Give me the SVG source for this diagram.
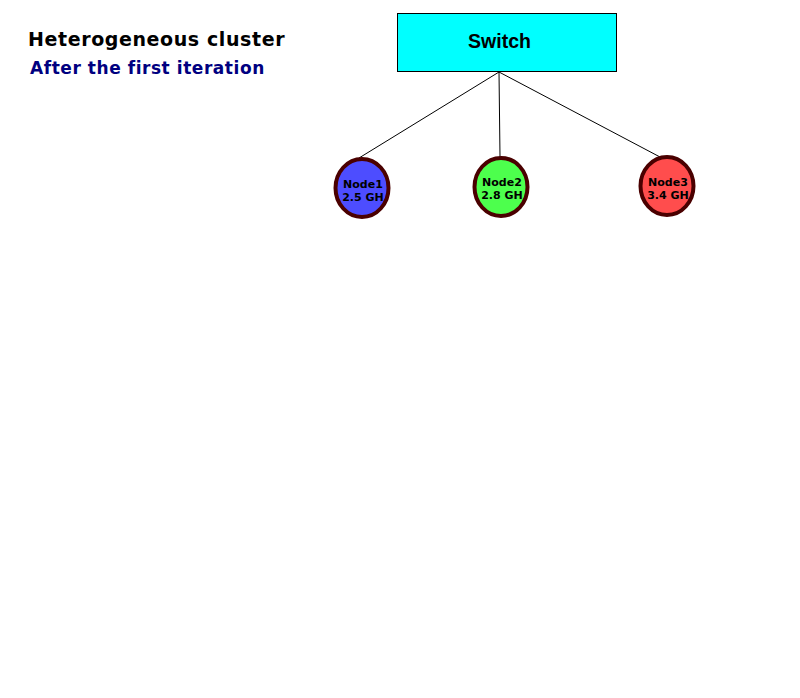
<svg xmlns="http://www.w3.org/2000/svg" width="800" height="698" viewBox="0 0 800 698">
<style>
.node{stroke:#4a0000;stroke-width:4}
.nl{font-family:"DejaVu Sans",sans-serif;font-weight:bold;font-size:11px;text-anchor:middle;fill:#000}
.conn{stroke:#000;stroke-width:1;fill:none}
</style>
<rect width="800" height="698" fill="#fff"/>
<text x="28" y="46" font-family="DejaVu Sans, sans-serif" font-weight="bold" font-size="19" letter-spacing="0.6" fill="#000">Heterogeneous cluster</text>
<text x="30" y="74" font-family="DejaVu Sans, sans-serif" font-weight="bold" font-size="17" letter-spacing="0.55" fill="#000080">After the first iteration</text>
<g id="connectors">
<line class="conn" x1="499" y1="72" x2="359" y2="158"/>
<line class="conn" x1="499" y1="72" x2="500" y2="157"/>
<line class="conn" x1="499" y1="72" x2="660" y2="157"/>
</g>
<g id="switch">
<rect x="397.5" y="13.5" width="219" height="58" fill="#00ffff" stroke="#000" stroke-width="1"/>
<text x="499.5" y="48" font-family="Liberation Sans, Arial, sans-serif" font-weight="bold" font-size="19.5" text-anchor="middle" fill="#000">Switch</text>
</g>
<g id="node1">
<ellipse class="node" cx="362" cy="188" rx="26.5" ry="29" fill="#4d4dff"/>
<text class="nl" x="363" y="188">Node1</text>
<text class="nl" x="363" y="201">2.5 GH</text>
</g>
<g id="node2">
<ellipse class="node" cx="501" cy="187" rx="26.5" ry="29" fill="#4dff4d"/>
<text class="nl" x="502" y="186">Node2</text>
<text class="nl" x="502" y="199">2.8 GH</text>
</g>
<g id="node3">
<ellipse class="node" cx="667" cy="186" rx="26.5" ry="29" fill="#ff4d4d"/>
<text class="nl" x="668" y="186">Node3</text>
<text class="nl" x="668" y="199">3.4 GH</text>
</g>
</svg>
